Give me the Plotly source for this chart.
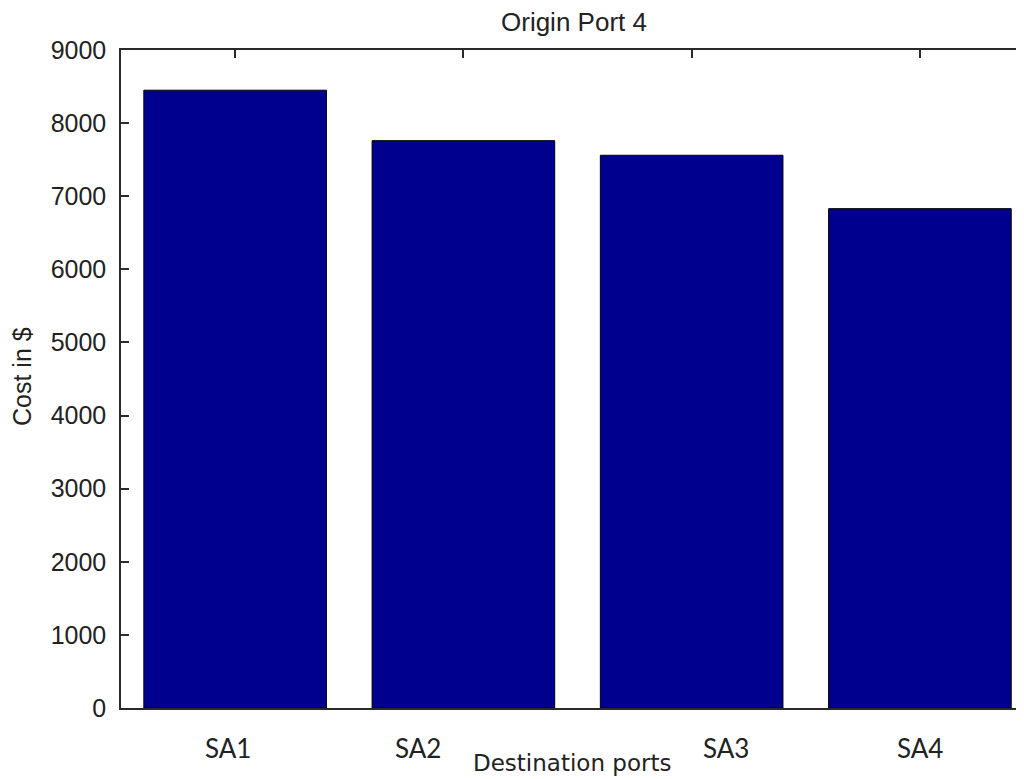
import plotly.graph_objects as go

# Data
categories = ["SA1", "SA2", "SA3", "SA4"]
cost = [8450, 7760, 7560, 6830]
bar_pos = [1, 2, 3, 4]
y_ticks = [0, 1000, 2000, 3000, 4000, 5000, 6000, 7000, 8000, 9000]

# Label positions (as drawn in the original, slightly offset)
label_pos = [0.97, 1.80, 3.15, 4.0]

TXT = "#222222"
AX = "#2a2a2a"

fig = go.Figure()
fig.add_trace(go.Bar(
    x=bar_pos, y=cost, width=0.8,
    marker=dict(color="#00008f", line=dict(color="#000000", width=1)),
    showlegend=False, hoverinfo="x+y",
))

fig.update_layout(
    width=1016, height=771,
    margin=dict(l=113, r=0, t=42, b=71),
    paper_bgcolor="white", plot_bgcolor="white",
    font=dict(family="Arial, Liberation Sans, sans-serif", color=TXT),
    xaxis=dict(
        range=[0.5, 4.456], tickvals=bar_pos, showticklabels=False,
        ticks="inside", ticklen=8, tickwidth=1.5, tickcolor=AX,
        showline=True, linecolor=AX, linewidth=1.5, mirror="allticks",
        showgrid=False, zeroline=False, layer="below traces",
    ),
    yaxis=dict(
        range=[0, 9000], tickvals=y_ticks, ticktext=[str(v) for v in y_ticks],
        ticks="inside", ticklen=8, tickwidth=1.5, tickcolor=AX,
        showline=True, linecolor=AX, linewidth=1.5, mirror=False,
        showgrid=False, zeroline=False, ticklabelstandoff=8,
        tickfont=dict(family="Arial, Liberation Sans, sans-serif", size=25, color=TXT),
    ),
    yaxis2=dict(
        overlaying="y", side="right", anchor="x", range=[0, 9000],
        tickvals=y_ticks, showticklabels=False, ticks="inside", ticklen=3,
        tickwidth=1.5, tickcolor=AX, showline=False, showgrid=False, zeroline=False,
    ),
)

annotations = []
for name, xp in zip(categories, label_pos):
    annotations.append(dict(
        x=xp, xref="x", y=0, yref="paper", yanchor="middle", yshift=-40,
        text=name, showarrow=False,
        font=dict(family="Lato, Open Sans, sans-serif", size=26, color=TXT),
    ))
annotations.append(dict(
    x=0.4994, xref="paper", y=0, yref="paper", yanchor="middle", yshift=-55,
    text="Destination ports", showarrow=False,
    font=dict(family="DejaVu Sans, sans-serif", size=23, color=TXT),
))
annotations.append(dict(
    x=0.5017, xref="paper", y=1, yref="paper", yanchor="middle", yshift=28,
    text="Origin Port 4", showarrow=False,
    font=dict(family="Arial, Liberation Sans, sans-serif", size=26, color=TXT),
))
annotations.append(dict(
    x=0, xref="paper", xshift=-99, y=0.503, yref="paper",
    xanchor="center", yanchor="middle", textangle=-90,
    text="Cost in $", showarrow=False,
    font=dict(family="Arial, Liberation Sans, sans-serif", size=25, color=TXT),
))
fig.update_layout(annotations=annotations)

fig.write_html("out.html")
